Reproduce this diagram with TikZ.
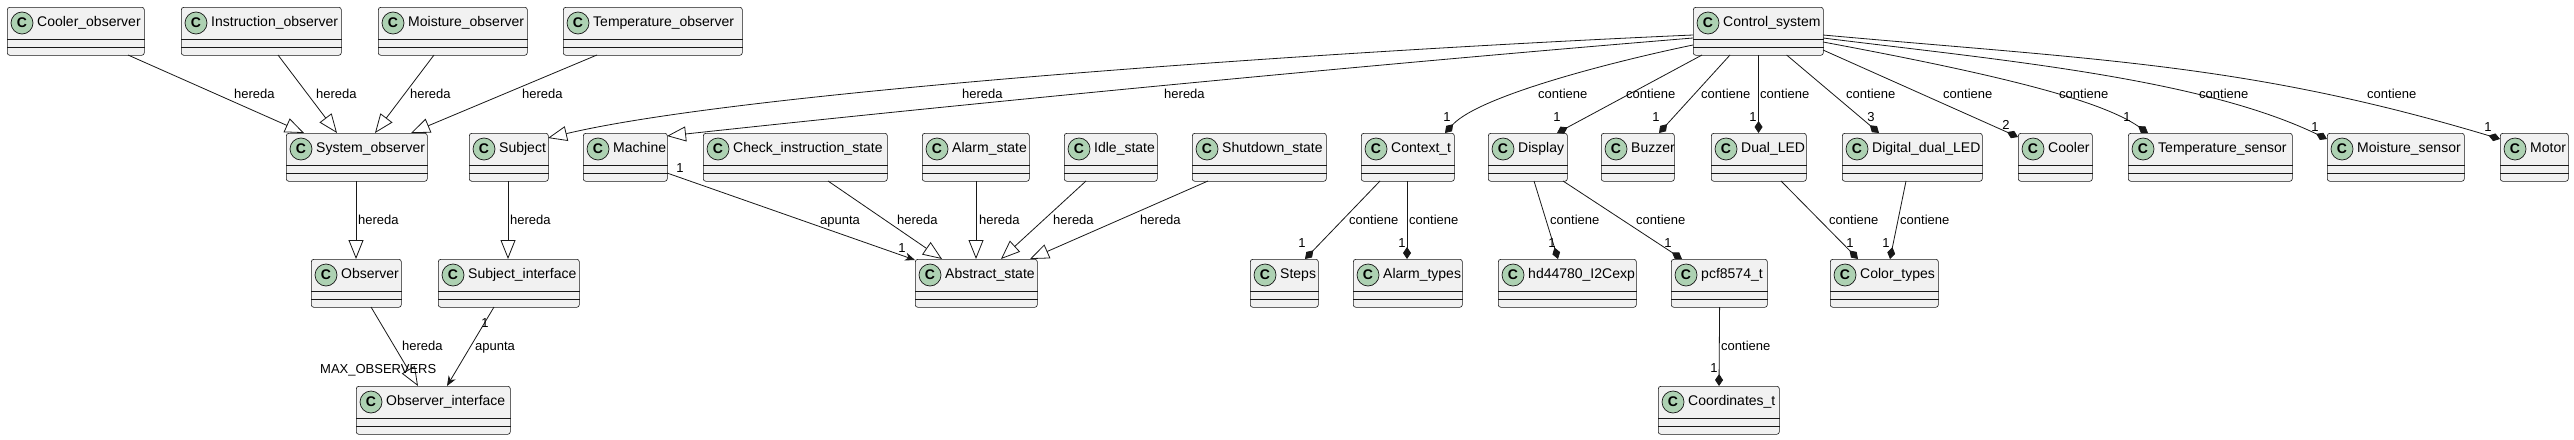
\documentclass[tikz,border=0pt]{standalone}
\usepackage{fontspec}
\setmainfont{Liberation Sans}
\usepackage{xcolor}
\usepackage{tikz}
\usetikzlibrary{calc, arrows.meta, positioning}

\definecolor{classfill}{HTML}{F1F1F1}
\definecolor{classline}{HTML}{181818}
\definecolor{circfill}{HTML}{ADD1B2}

% name, x, y, width, text
\newcommand{\umlclass}[5]{%
	\node[classbox, minimum width=#4pt, anchor=north west] (#1) at (#2,#3) {};
	\draw[sepline] ($(#1.north west)+(0,32)$) -- ($(#1.north east)+(0,32)$);
	\draw[sepline] ($(#1.north west)+(0,40)$) -- ($(#1.north east)+(0,40)$);
	\node[cmark] (#1c) at ($(#1.north west)+(15,16)$) {C};
	\node[cname] (#1t) at ($(#1.north west)+(30,16)$) {#5};
}

\begin{document}
\begin{tikzpicture}[x=1pt, y=-1pt, >=Stealth]
		\tikzstyle{classbox} = [draw=classline, line width=0.6pt, fill=classfill, rounded corners=2.5pt, minimum height=48pt, inner sep=0pt]
		\tikzstyle{sepline} = [draw=classline, line width=0.6pt]
		\tikzstyle{cmark} = [circle, draw=classline, line width=0.7pt, fill=circfill, minimum size=22pt, inner sep=0pt, font=\fontsize{14}{16}\selectfont\bfseries]
		\tikzstyle{cname} = [anchor=west, inner sep=0pt, text height=10pt, text depth=3pt, font=\fontsize{14}{16}\selectfont]
		\tikzstyle{elabel} = [anchor=west, inner sep=0pt, text height=10pt, text depth=3pt, font=\fontsize{13}{15}\selectfont]
		\tikzstyle{mult} = [inner sep=0pt, font=\fontsize{13}{15}\selectfont]
		\tikzstyle{inh} = [draw=classline, line width=0.8pt, -{Triangle[open, length=19pt, width=15pt]}]
		\tikzstyle{comp} = [draw=classline, line width=0.8pt, -{Diamond[length=12pt, width=8pt]}]
		\tikzstyle{pnt} = [draw=classline, line width=0.8pt, -{Stealth[length=10pt, width=8pt, inset=3pt]}]
		
		\path[use as bounding box, fill=white] (0,0) rectangle (2574,439);
		
		% row 1
		\umlclass{coolobs}{7}{7}{137}{Cooler\_observer}
		\umlclass{instobs}{181}{7}{160}{Instruction\_observer}
		\umlclass{moistobs}{378}{7}{149}{Moisture\_observer}
		\umlclass{tempobs}{563}{7}{179}{Temperature\_observer}
		\umlclass{ctrl}{1693}{7}{130}{Control\_system}
		
		% row 2
		\umlclass{sysobs}{286}{133}{141}{System\_observer}
		\umlclass{subject}{469}{133}{79}{Subject}
		\umlclass{machine}{583}{133}{84}{Machine}
		\umlclass{checkst}{703}{133}{184}{Check\_instruction\_state}
		\umlclass{alarmst}{922}{133}{107}{Alarm\_state}
		\umlclass{idlest}{1064}{133}{93}{Idle\_state}
		\umlclass{shutst}{1192}{133}{134}{Shutdown\_state}
		\umlclass{context}{1361}{133}{93}{Context\_t}
		\umlclass{display}{1488}{133}{79}{Display}
		\umlclass{buzzer}{1601}{133}{73}{Buzzer}
		\umlclass{dualled}{1711}{133}{95}{Dual\_LED}
		\umlclass{digled}{1842}{133}{140}{Digital\_dual\_LED}
		\umlclass{cooler}{2018}{133}{74}{Cooler}
		\umlclass{tempsens}{2128}{133}{164}{Temperature\_sensor}
		\umlclass{moistsens}{2327}{133}{137}{Moisture\_sensor}
		\umlclass{motor}{2500}{133}{68}{Motor}
		
		% row 3
		\umlclass{observer}{311}{259}{90}{Observer}
		\umlclass{subjint}{438}{259}{141}{Subject\_interface}
		\umlclass{abstract}{915}{259}{122}{Abstract\_state}
		\umlclass{steps}{1250}{259}{68}{Steps}
		\umlclass{alarmtypes}{1353}{259}{109}{Alarm\_types}
		\umlclass{hd}{1498}{259}{138}{hd44780\_I2Cexp}
		\umlclass{pcf}{1671}{259}{96}{pcf8574\_t}
		\umlclass{colortypes}{1830}{259}{108}{Color\_types}
		
		% row 4
		\umlclass{obsint}{356}{386}{154}{Observer\_interface}
		\umlclass{coords}{1658}{386}{121}{Coordinates\_t}
		
		% hereda
		\draw[inh] ($(coolobs.north west)+(121,48)$) -- ($(sysobs.north west)+(18,0)$);
		\draw[inh] ($(instobs.north west)+(97,48)$) -- ($(sysobs.north west)+(51,0)$);
		\draw[inh] ($(moistobs.north west)+(56,48)$) -- ($(sysobs.north west)+(89,0)$);
		\draw[inh] ($(tempobs.north west)+(34,48)$) -- ($(sysobs.north west)+(125,0)$);
		\draw[inh] ($(sysobs.north west)+(70,48)$) -- ($(observer.north west)+(45,0)$);
		\draw[inh] ($(subject.north west)+(39,48)$) -- ($(subjint.north west)+(70,0)$);
		\draw[inh] ($(observer.north west)+(60,48)$) -- ($(obsint.north west)+(62,0)$);
		\draw[inh] ($(checkst.north west)+(125,48)$) -- ($(abstract.north west)+(27,0)$);
		\draw[inh] ($(alarmst.north west)+(54,48)$) -- ($(abstract.north west)+(61,0)$);
		\draw[inh] ($(idlest.north west)+(22,48)$) -- ($(abstract.north west)+(86,0)$);
		\draw[inh] ($(shutst.north west)+(16,48)$) -- ($(abstract.north west)+(115,0)$);
		\draw[inh] ($(ctrl.north west)+(0,28)$) .. controls (1350,50) and (750,90) .. ($(subject.north west)+(79,5)$);
		\draw[inh] ($(ctrl.north west)+(0,31)$) .. controls (1400,62) and (1000,100) .. ($(machine.north west)+(84,3)$);
		
		% apunta
		\draw[pnt] ($(machine.north west)+(84,40)$) -- ($(abstract.north west)+(0,1)$);
		\draw[pnt] ($(subjint.north west)+(56,48)$) -- ($(obsint.north west)+(91,0)$);
		
		% contiene
		\draw[comp] ($(ctrl.north west)+(0,38)$) .. controls (1620,60) and (1480,95) .. ($(context.north west)+(84,0)$);
		\draw[comp] ($(ctrl.north west)+(9,48)$) -- ($(display.north west)+(69,0)$);
		\draw[comp] ($(ctrl.north west)+(37,48)$) -- ($(buzzer.north west)+(58,0)$);
		\draw[comp] ($(ctrl.north west)+(65.5,48)$) -- ($(dualled.north west)+(47.5,0)$);
		\draw[comp] ($(ctrl.north west)+(93.6,48)$) -- ($(digled.north west)+(37,0)$);
		\draw[comp] ($(ctrl.north west)+(130,43)$) -- ($(cooler.north west)+(0,4)$);
		\draw[comp] ($(ctrl.north west)+(130,35)$) .. controls (2000,75) and (2100,100) .. ($(tempsens.north west)+(20,0)$);
		\draw[comp] ($(ctrl.north west)+(130,31)$) .. controls (2000,60) and (2200,78) .. ($(moistsens.north west)+(0,6)$);
		\draw[comp] ($(ctrl.north west)+(130,28)$) .. controls (2100,60) and (2250,64) .. ($(motor.north west)+(0,6)$);
		\draw[comp] ($(context.north west)+(19,48)$) -- ($(steps.north west)+(55,0)$);
		\draw[comp] ($(context.north west)+(46,48)$) -- ($(alarmtypes.north west)+(54,0)$);
		\draw[comp] ($(display.north west)+(46,48)$) -- ($(hd.north west)+(60,0)$);
		\draw[comp] ($(display.north west)+(75,48)$) -- ($(pcf.north west)+(11,0)$);
		\draw[comp] ($(dualled.north west)+(70,48)$) -- ($(colortypes.north west)+(28,0)$);
		\draw[comp] ($(digled.north west)+(64,48)$) -- ($(colortypes.north west)+(60,0)$);
		\draw[comp] ($(pcf.north west)+(48.6,48)$) -- ($(coords.north west)+(61,0)$);
		
		% edge labels
		\node[elabel] (lh1) at (234,95) {hereda};
		\node[elabel] (lh2) at (316,95) {hereda};
		\node[elabel] (lh3) at (410,95) {hereda};
		\node[elabel] (lh4) at (522,95) {hereda};
		\node[elabel] (lh5) at (358,221) {hereda};
		\node[elabel] (lh6) at (510,221) {hereda};
		\node[elabel] (lh7) at (402,347) {hereda};
		\node[elabel] (lh8) at (962,95) {hereda};
		\node[elabel] (lh9) at (1164,95) {hereda};
		\node[elabel] (lh10) at (897,221) {hereda};
		\node[elabel] (lh11) at (979,221) {hereda};
		\node[elabel] (lh12) at (1053,221) {hereda};
		\node[elabel] (lh13) at (1140,221) {hereda};
		\node[elabel] (la1) at (820,221) {apunta};
		\node[elabel] (la2) at (475,347) {apunta};
		\node[elabel] (lmax) at (320,370) {MAX\_OBSERVERS};
		\node[elabel] (lc1) at (1538,95) {contiene};
		\node[elabel] (lc2) at (1626,95) {contiene};
		\node[elabel] (lc3) at (1701,95) {contiene};
		\node[elabel] (lc4) at (1760,95) {contiene};
		\node[elabel] (lc5) at (1846,95) {contiene};
		\node[elabel] (lc6) at (1943,95) {contiene};
		\node[elabel] (lc7) at (2059,95) {contiene};
		\node[elabel] (lc8) at (2199,95) {contiene};
		\node[elabel] (lc9) at (2367,95) {contiene};
		\node[elabel] (lc10) at (1349,221) {contiene};
		\node[elabel] (lc11) at (1409,221) {contiene};
		\node[elabel] (lc12) at (1550,221) {contiene};
		\node[elabel] (lc13) at (1636,221) {contiene};
		\node[elabel] (lc14) at (1829,221) {contiene};
		\node[elabel] (lc15) at (1900,221) {contiene};
		\node[elabel] (lc16) at (1721,347) {contiene};
		
		% multiplicities
		\node[mult] (m1) at (485,323) {1};
		\node[mult] (m2) at (680,168) {1};
		\node[mult] (m3) at (902,248) {1};
		\node[mult] (m4) at (1447,117) {1};
		\node[mult] (m5) at (1557,117) {1};
		\node[mult] (m6) at (1656,117) {1};
		\node[mult] (m7) at (1753,117) {1};
		\node[mult] (m8) at (1871,117) {3};
		\node[mult] (m9) at (2006,125) {2};
		\node[mult] (m10) at (2127,117) {1};
		\node[mult] (m11) at (2315,127) {1};
		\node[mult] (m12) at (2488,127) {1};
		\node[mult] (m13) at (1302,243) {1};
		\node[mult] (m14) at (1402,243) {1};
		\node[mult] (m15) at (1552,243) {1};
		\node[mult] (m16) at (1668,243) {1};
		\node[mult] (m17) at (1850,243) {1};
		\node[mult] (m18) at (1886,243) {1};
		\node[mult] (m19) at (1714,368) {1};
	\end{tikzpicture}
\end{document}
